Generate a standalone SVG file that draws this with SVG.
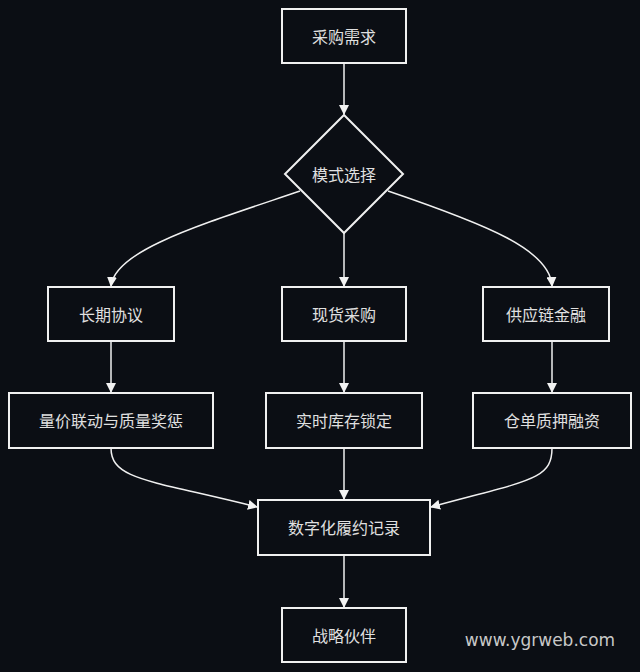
<svg xmlns="http://www.w3.org/2000/svg" width="640" height="672" viewBox="0 0 640 672">
<defs>
<marker id="ah" markerWidth="10" markerHeight="10" refX="9" refY="5" orient="auto" markerUnits="userSpaceOnUse"><path d="M0,0 L10,5 L0,10 Z" fill="#f2f2f2"/></marker>
<style>
.n{fill:#0b0e14;stroke:#f0f0f0;stroke-width:2}
.t{fill:#e0e0e0;font-family:"Noto Sans CJK SC","Noto Sans",sans-serif;font-size:16px;text-anchor:middle;dominant-baseline:central}
.e{fill:none;stroke:#f0f0f0;stroke-width:1.5;marker-end:url(#ah)}
</style>
</defs>
<rect width="640" height="672" fill="#0b0e14"/>
<g id="connectors">
<path class="e" d="M344,63 L344,114"/>
<path class="e" d="M300,191 C200,225 115,250 111,286"/>
<path class="e" d="M344,233 L344,286"/>
<path class="e" d="M388,191 C488,225 550,250 552,286"/>
<path class="e" d="M111,341 L111,392"/>
<path class="e" d="M344,341 L344,392"/>
<path class="e" d="M552,341 L552,392"/>
<path class="e" d="M111,448 C111,480 150,480 257,507"/>
<path class="e" d="M344,448 L344,499"/>
<path class="e" d="M552,448 C552,480 530,480 431,507"/>
<path class="e" d="M344,555 L344,607"/>
</g>
<g id="n1"><rect class="n" x="282" y="9" width="124" height="54"/><text class="t" x="344" y="36">采购需求</text></g>
<g id="n2"><path class="n" d="M344,115 L403,174 L344,233 L285,174 Z"/><text class="t" x="344" y="174">模式选择</text></g>
<g id="n3"><rect class="n" x="48" y="287" width="126" height="54"/><text class="t" x="111" y="314">长期协议</text></g>
<g id="n4"><rect class="n" x="282" y="287" width="124" height="54"/><text class="t" x="344" y="314">现货采购</text></g>
<g id="n5"><rect class="n" x="483" y="287" width="126" height="54"/><text class="t" x="546" y="314">供应链金融</text></g>
<g id="n6"><rect class="n" x="9" y="393" width="204" height="55"/><text class="t" x="111" y="420">量价联动与质量奖惩</text></g>
<g id="n7"><rect class="n" x="266" y="393" width="156" height="55"/><text class="t" x="344" y="420">实时库存锁定</text></g>
<g id="n8"><rect class="n" x="473" y="393" width="158" height="55"/><text class="t" x="552" y="420">仓单质押融资</text></g>
<g id="n9"><rect class="n" x="258" y="500" width="172" height="55"/><text class="t" x="344" y="527">数字化履约记录</text></g>
<g id="n10"><rect class="n" x="282" y="608" width="124" height="54"/><text class="t" x="344" y="635">战略伙伴</text></g>
<text x="540" y="640" style="fill:#c8c8c8;font-family:'DejaVu Sans',sans-serif;font-size:17px;text-anchor:middle;dominant-baseline:central">www.ygrweb.com</text>
</svg>
